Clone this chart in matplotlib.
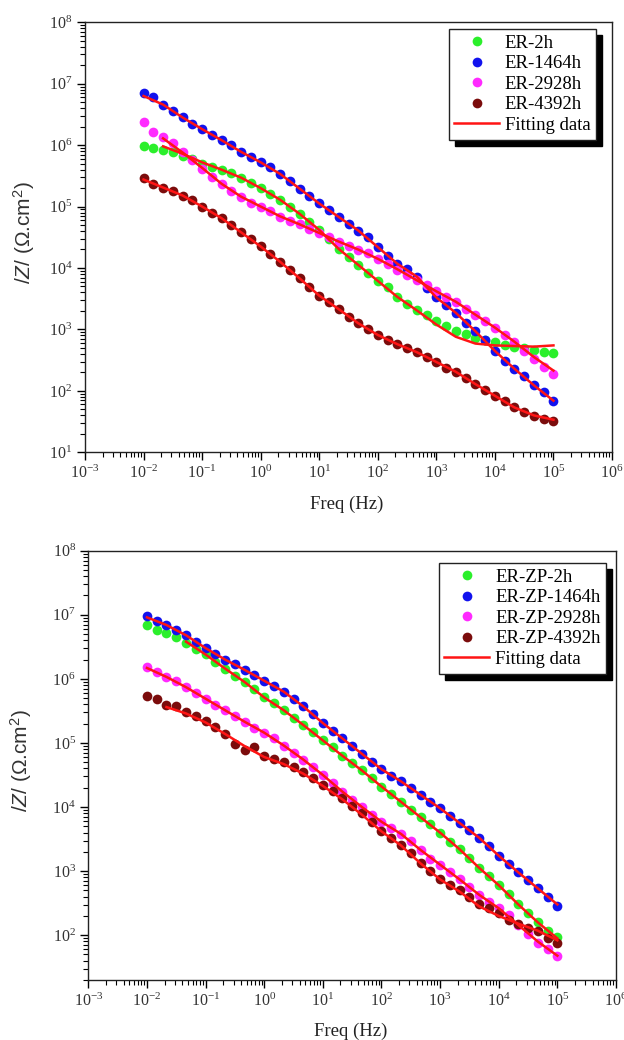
from __future__ import annotations

import matplotlib

matplotlib.use("Agg")
import matplotlib.pyplot as plt
import numpy as np
from matplotlib.ticker import LogLocator, NullFormatter

# Frequencies of the EIS sweep (Hz), six points per decade
freq_hz = [
    0.01, 0.01468, 0.02154, 0.03162, 0.04642, 0.06813,
    0.1, 0.1468, 0.2154, 0.3162, 0.4642, 0.6813,
    1.0, 1.468, 2.154, 3.162, 4.642, 6.813,
    10.0, 14.68, 21.54, 31.62, 46.42, 68.13,
    100.0, 146.8, 215.4, 316.2, 464.2, 681.3,
    1000.0, 1468.0, 2154.0, 3162.0, 4642.0, 6813.0,
    10000.0, 14680.0, 21540.0, 31620.0, 46420.0, 68130.0,
    100000.0,
]

# log10 |Z| (ER coating)
top_er_2h = [5.99, 5.95, 5.92, 5.88, 5.82, 5.77, 5.70, 5.64, 5.60, 5.54, 5.46, 5.38,
             5.30, 5.21, 5.11, 4.99, 4.88, 4.75, 4.62, 4.48, 4.31, 4.18, 4.05, 3.92,
             3.79, 3.69, 3.53, 3.41, 3.31, 3.23, 3.14, 3.06, 2.98, 2.93, 2.86, 2.82,
             2.79, 2.75, 2.72, 2.69, 2.67, 2.64, 2.62]
top_er_1464h = [6.85, 6.78, 6.66, 6.55, 6.45, 6.35, 6.26, 6.17, 6.08, 6.00, 5.89, 5.81,
                5.72, 5.64, 5.53, 5.41, 5.29, 5.17, 5.05, 4.94, 4.83, 4.72, 4.61, 4.50,
                4.34, 4.19, 4.07, 3.99, 3.86, 3.68, 3.52, 3.40, 3.27, 3.11, 2.97, 2.83,
                2.65, 2.49, 2.36, 2.24, 2.09, 1.98, 1.84]
top_er_2928h = [6.37, 6.22, 6.14, 6.03, 5.89, 5.75, 5.61, 5.48, 5.37, 5.26, 5.16, 5.06,
                5.00, 4.93, 4.83, 4.76, 4.71, 4.64, 4.57, 4.50, 4.43, 4.35, 4.30, 4.24,
                4.14, 4.06, 3.97, 3.88, 3.80, 3.72, 3.62, 3.53, 3.45, 3.33, 3.24, 3.14,
                3.02, 2.91, 2.79, 2.65, 2.52, 2.39, 2.27]
top_er_4392h = [5.46, 5.37, 5.31, 5.26, 5.18, 5.10, 5.00, 4.90, 4.81, 4.70, 4.58, 4.47,
                4.35, 4.23, 4.10, 3.97, 3.83, 3.69, 3.55, 3.45, 3.33, 3.20, 3.10, 3.00,
                2.91, 2.83, 2.76, 2.69, 2.63, 2.55, 2.47, 2.38, 2.31, 2.21, 2.11, 2.01,
                1.92, 1.84, 1.73, 1.66, 1.59, 1.55, 1.51]

# log10 |Z| of the fitted curves (every other frequency), NaN where no fit is drawn
top_fit_2h = [np.nan, 5.98, 5.86, 5.72, 5.60, 5.47, 5.30, 5.11, 4.88, 4.62, 4.31,
              4.05, 3.79, 3.53, 3.31, 3.08, 2.88, 2.77, 2.74, 2.73, 2.72, 2.74]
top_fit_1464h = [6.80, 6.66, 6.45, 6.26, 6.08, 5.89, 5.72, 5.53, 5.29, 5.05, 4.83,
                 4.61, 4.34, 4.07, 3.86, 3.52, 3.27, 2.97, 2.65, 2.36, 2.09, 1.84]
top_fit_2928h = [np.nan, 6.11, 5.88, 5.63, 5.37, 5.16, 5.00, 4.84, 4.71, 4.57, 4.43,
                 4.30, 4.15, 3.98, 3.80, 3.62, 3.45, 3.24, 3.03, 2.80, 2.55, 2.33]
top_fit_4392h = [5.44, 5.31, 5.18, 5.00, 4.81, 4.58, 4.35, 4.10, 3.83, 3.55, 3.33,
                 3.10, 2.91, 2.76, 2.63, 2.47, 2.31, 2.11, 1.92, 1.73, 1.60, 1.53]

# log10 |Z| (ER-ZP coating)
bot_er_zp_2h = [6.84, 6.77, 6.71, 6.65, 6.56, 6.47, 6.38, 6.27, 6.16, 6.05, 5.95, 5.84,
                5.71, 5.62, 5.51, 5.39, 5.28, 5.17, 5.04, 4.93, 4.80, 4.69, 4.57, 4.45,
                4.32, 4.21, 4.08, 3.96, 3.84, 3.73, 3.60, 3.46, 3.34, 3.20, 3.05, 2.92,
                2.78, 2.65, 2.48, 2.35, 2.20, 2.07, 1.97]
bot_er_zp_1464h = [6.98, 6.91, 6.84, 6.76, 6.68, 6.58, 6.48, 6.39, 6.30, 6.23, 6.14, 6.06,
                   5.97, 5.89, 5.80, 5.69, 5.57, 5.45, 5.31, 5.19, 5.07, 4.96, 4.83, 4.71,
                   4.59, 4.49, 4.40, 4.30, 4.19, 4.08, 3.98, 3.86, 3.75, 3.64, 3.52, 3.39,
                   3.24, 3.11, 2.98, 2.86, 2.73, 2.60, 2.45]
bot_er_zp_2928h = [6.19, 6.11, 6.03, 5.97, 5.87, 5.78, 5.69, 5.59, 5.51, 5.42, 5.33, 5.24,
                   5.16, 5.07, 4.96, 4.85, 4.74, 4.62, 4.50, 4.37, 4.24, 4.11, 4.00, 3.87,
                   3.77, 3.68, 3.58, 3.47, 3.33, 3.19, 3.10, 2.98, 2.87, 2.75, 2.63, 2.52,
                   2.42, 2.31, 2.16, 2.02, 1.88, 1.78, 1.68]
bot_er_zp_4392h = [5.74, 5.69, 5.59, 5.57, 5.49, 5.42, 5.35, 5.25, 5.14, 4.98, 4.89, 4.93,
                   4.80, 4.75, 4.70, 4.63, 4.54, 4.45, 4.34, 4.25, 4.14, 4.01, 3.90, 3.76,
                   3.63, 3.52, 3.40, 3.29, 3.13, 3.00, 2.88, 2.79, 2.70, 2.59, 2.49, 2.42,
                   2.34, 2.24, 2.17, 2.11, 2.06, 1.96, 1.88]

bot_fit_2h = [np.nan, np.nan, 6.58, 6.38, 6.16, 5.95, 5.71, 5.51, 5.28, 5.04, 4.80,
              4.57, 4.32, 4.08, 3.84, 3.60, 3.34, 3.05, 2.78, 2.48, 2.20, 1.95]
bot_fit_1464h = [6.96, 6.84, 6.68, 6.48, 6.30, 6.14, 5.97, 5.80, 5.57, 5.31, 5.07,
                 4.83, 4.59, 4.40, 4.19, 3.98, 3.75, 3.52, 3.24, 2.98, 2.73, 2.48]
bot_fit_2928h = [6.17, 6.03, 5.87, 5.69, 5.51, 5.33, 5.16, 4.96, 4.74, 4.50, 4.24,
                 4.00, 3.77, 3.58, 3.33, 3.10, 2.87, 2.63, 2.42, 2.16, 1.90, 1.68]
bot_fit_4392h = [np.nan, 5.56, 5.46, 5.32, 5.14, 4.95, 4.78, 4.67, 4.52, 4.33, 4.12,
                 3.88, 3.62, 3.40, 3.12, 2.87, 2.68, 2.45, 2.30, 2.18, 2.07, 1.92]

top_labels = ["ER-2h", "ER-1464h", "ER-2928h", "ER-4392h"]
bot_labels = ["ER-ZP-2h", "ER-ZP-1464h", "ER-ZP-2928h", "ER-ZP-4392h"]
series_colors = ["#2bef2b", "#1212ee", "#ff2aff", "#7b0c0c"]
fit_color = "#ff1414"


def configure_style() -> None:
    plt.rcParams.update(
        {
            "font.family": ["Liberation Serif", "DejaVu Serif"],
            "mathtext.fontset": "custom",
            "mathtext.rm": "Liberation Sans",
            "mathtext.it": "Liberation Sans:italic",
            "axes.linewidth": 1.0,
            "axes.edgecolor": "#222222",
        }
    )


def draw_panel(ax, series, fits, labels, ylim, ylabel_x, legend_anchor) -> None:
    freq = np.asarray(freq_hz)
    fit_freq = freq[::2]
    for values, label, color in zip(series, labels, series_colors):
        ax.plot(freq, 10 ** np.asarray(values), "o", linestyle="none",
                markersize=7, color=color, markeredgewidth=0, label=label, zorder=2)
    for index, values in enumerate(fits):
        ax.plot(fit_freq, 10 ** np.asarray(values), "-", color=fit_color, linewidth=1.8,
                label="Fitting data" if index == 0 else None, zorder=3)

    ax.set_xscale("log")
    ax.set_yscale("log")
    ax.set_xlim(1e-3, 1e6)
    ax.set_ylim(*ylim)
    for axis in (ax.xaxis, ax.yaxis):
        axis.set_major_locator(LogLocator(base=10, numticks=20))
        axis.set_minor_locator(LogLocator(base=10, subs=np.arange(2, 10), numticks=20))
        axis.set_minor_formatter(NullFormatter())
    ax.tick_params(which="major", direction="out", length=6, width=1.0,
                   labelsize=11.5, labelcolor="#333333", pad=3, top=False, right=False)
    ax.tick_params(which="minor", direction="out", length=3.5, width=0.8,
                   top=False, right=False)

    ax.set_xlabel("Freq (Hz)", fontsize=13.5, color="#222222")
    ax.xaxis.set_label_coords(0.497, -0.100)
    ax.set_ylabel(r"$\it{/Z/}$ (Ω.cm$^{2}$)", fontsize=15, color="#333333",
                  family=["Liberation Sans", "DejaVu Sans"])
    ax.yaxis.set_label_coords(ylabel_x, 0.51)

    ax.legend(
        loc="upper right",
        bbox_to_anchor=legend_anchor,
        borderaxespad=0,
        fontsize=13.5,
        frameon=True,
        fancybox=False,
        framealpha=1,
        edgecolor="#222222",
        borderpad=0.3,
        labelspacing=0.18,
        handlelength=2.4,
        handletextpad=0.3,
        shadow={"ox": 4.5, "oy": -4.5, "shade": 1.0, "alpha": 1.0},
    )


def main() -> None:
    configure_style()
    fig = plt.figure(figsize=(6.24, 10.4), dpi=100)
    ax_top = fig.add_axes([0.1362, 0.5651, 0.8446, 0.4135])
    ax_bot = fig.add_axes([0.1415, 0.0577, 0.8457, 0.4128])

    draw_panel(
        ax_top,
        [top_er_2h, top_er_1464h, top_er_2928h, top_er_4392h],
        [top_fit_2h, top_fit_1464h, top_fit_2928h, top_fit_4392h],
        top_labels,
        (1e1, 1e8),
        -0.092,
        (0.970, 0.984),
    )
    draw_panel(
        ax_bot,
        [bot_er_zp_2h, bot_er_zp_1464h, bot_er_zp_2928h, bot_er_zp_4392h],
        [bot_fit_2h, bot_fit_1464h, bot_fit_2928h, bot_fit_4392h],
        bot_labels,
        (20, 1e8),
        -0.103,
        (0.981, 0.971),
    )
    fig.savefig("out.png", dpi=100)
    plt.close(fig)


if __name__ == "__main__":
    main()
